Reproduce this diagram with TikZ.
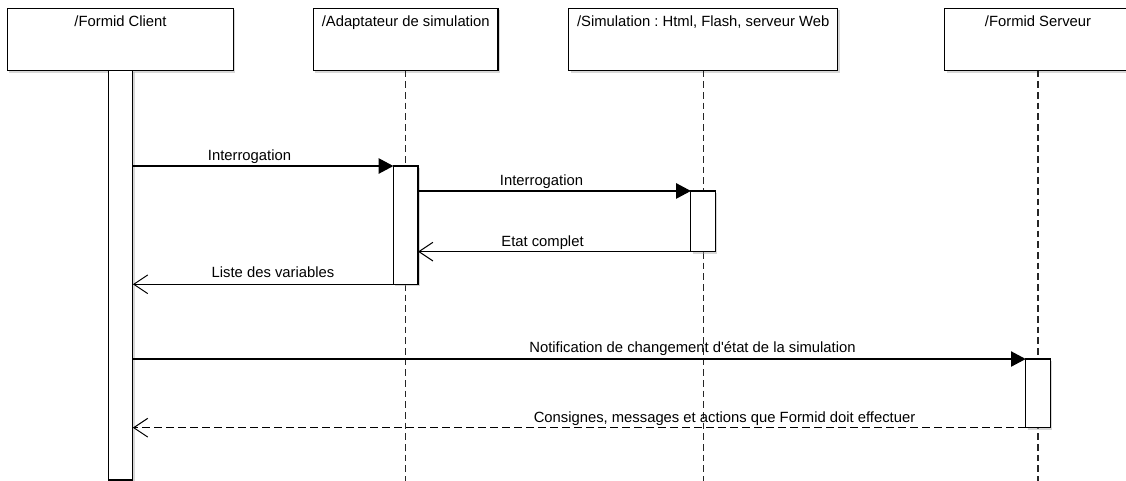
\documentclass[tikz,border=0pt]{standalone}
\usepackage{fontspec}
\setmainfont{Liberation Sans}
\frenchspacing
\usetikzlibrary{arrows.meta,calc,shadows}
\begin{document}
\begin{tikzpicture}[x=0.75pt,y=-0.75pt,
  every node/.style={font=\fontsize{11.1pt}{13pt}\selectfont, inner sep=0pt, outer sep=0pt},
  boxshadow/.style={drop shadow={shadow xshift=1.4pt, shadow yshift=-1.4pt, fill=black!35, opacity=0.45}},
  hbox/.style={draw=black, fill=white, line width=0.85pt, minimum height=46.8pt, boxshadow},
  actbox/.style={draw=black, fill=white, line width=0.85pt, minimum width=18.5pt, boxshadow},
  lifeline/.style={draw=black!85, line width=0.8pt, dash pattern=on 5pt off 3pt},
  lbl/.style={anchor=base, text=black},
  msgsync/.style={draw=black, line width=0.85pt, -{Triangle[length=11pt,width=11.5pt]}},
  msgret/.style={draw=black, line width=0.85pt, -{Straight Barb[length=10.5pt,width=14pt,line width=0.75pt]}},
  msgreply/.style={msgret, dash pattern=on 6pt off 3pt}
]
\useasboundingbox (0,0) rectangle (1126,481);

% header boxes
\node[hbox, minimum width=169.5pt] (h1) at (120.5,39.5) {};
\node[hbox, minimum width=138.5pt] (h2) at (405.7,39.5) {};
\node[hbox, minimum width=201.75pt] (h3) at (703.2,39.5) {};
\node[hbox, minimum width=140pt] (h4) at (1038,39.5) {};

\node[lbl] (h1t) at ($(h1.north)+(0,18)$) {/Formid Client};
\node[lbl] (h2t) at ($(h2.north)+(0,18)$) {/Adaptateur de simulation};
\node[lbl] (h3t) at ($(h3.north)+(0,18)$) {/Simulation : Html, Flash, serveur Web};
\node[lbl] (h4t) at ($(h4.north)+(0,18)$) {/Formid Serveur};

% lifeline ends
\coordinate (e2) at (405.7,482);
\coordinate (e3) at (703.2,482);
\coordinate (e4) at (1038,482);
\draw[lifeline] (h2.south) -- (e2);
\draw[lifeline] (h3.south) -- (e3);
\draw[lifeline] (h4.south) -- (e4);

% activation boxes
\node[actbox, minimum height=307pt] (a1) at (120.5,275.3) {};
\node[actbox, minimum height=88.7pt] (a2) at (405.7,225.15) {};
\node[actbox, minimum height=45.5pt] (a3) at (703.2,221.3) {};
\node[actbox, minimum height=51.5pt] (a4) at (1038,393.35) {};

% messages
\draw[msgsync] (a1.east |- a2.north) -- (a2.north west);
\node[lbl] (l1) at (249.5,161) {Interrogation};

\draw[msgsync] (a2.east |- a3.north) -- (a3.north west);
\node[lbl] (l2) at (541.5,185.5) {Interrogation};

\draw[msgret] (a3.south west) -- (a2.east |- a3.south);
\node[lbl] (l3) at (542.5,246) {Etat complet};

\draw[msgret] (a2.south west) -- (a1.east |- a2.south);
\node[lbl] (l4) at (273,277) {Liste des variables};

\draw[msgsync] (a1.east |- a4.north) -- (a4.north west);
\node[lbl] (l5) at (692.5,352) {Notification de changement d\textquotesingle état de la simulation};

\draw[msgreply] (a4.south west) -- (a1.east |- a4.south);
\node[lbl] (l6) at (724.5,422) {Consignes, messages et actions que Formid doit effectuer};
\end{tikzpicture}
\end{document}
